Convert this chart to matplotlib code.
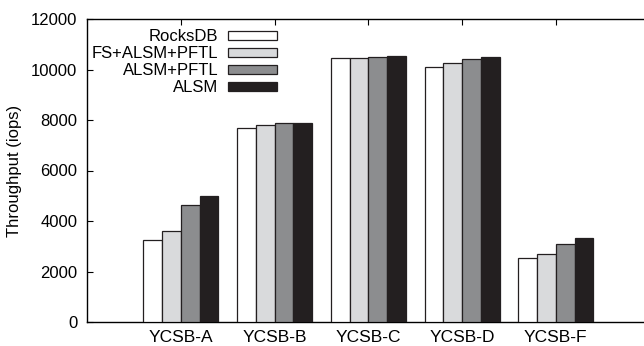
import matplotlib.pyplot as plt
import numpy as np

plt.rcParams["font.family"] = ["Liberation Sans", "DejaVu Sans"]

workloads = ["YCSB-A", "YCSB-B", "YCSB-C", "YCSB-D", "YCSB-F"]
series = ["RocksDB", "FS+ALSM+PFTL", "ALSM+PFTL", "ALSM"]
rocksdb = [3240, 7700, 10440, 10110, 2550]
fs_alsm_pftl = [3600, 7800, 10440, 10240, 2710]
alsm_pftl = [4620, 7890, 10490, 10410, 3080]
alsm = [4980, 7900, 10530, 10480, 3320]
colors = ["#ffffff", "#d9dadc", "#8c8d8f", "#231f20"]

values = [rocksdb, fs_alsm_pftl, alsm_pftl, alsm]

fig = plt.figure(figsize=(6.44, 3.46), dpi=100)
ax = fig.add_axes([87 / 644, 1 - 322 / 346, 562.5 / 644, 303 / 346])

x = np.arange(1, len(workloads) + 1)
w = 0.2
for i, (name, vals) in enumerate(zip(series, values)):
    ax.bar(x + (i - 1.5) * w, vals, w, color=colors[i], edgecolor="#231f20",
           linewidth=0.9, label=name, zorder=3)

ax.set_xlim(0, 6)
ax.set_ylim(0, 12000)
ax.set_xticks(x)
ax.set_xticklabels(workloads)
ax.set_yticks(range(0, 12001, 2000))
ax.tick_params(direction="in", top=True, right=True, length=4, width=0.8)
ax.tick_params(axis="x", labelsize=12.5, pad=6)
ax.tick_params(axis="y", labelsize=12, pad=7)
ax.set_ylabel("Throughput (iops)", fontsize=12)
ax.yaxis.set_label_coords(-0.1156, 0.5)
for s in ax.spines.values():
    s.set_linewidth(1.0)

ax.legend(loc="upper left", bbox_to_anchor=(-0.012, 1.005), frameon=False, markerfirst=False,
          fontsize=12, handlelength=2.9, handleheight=0.45, labelspacing=0.12,
          handletextpad=0.6, borderaxespad=0.3)

plt.savefig("out.png", dpi=100)
